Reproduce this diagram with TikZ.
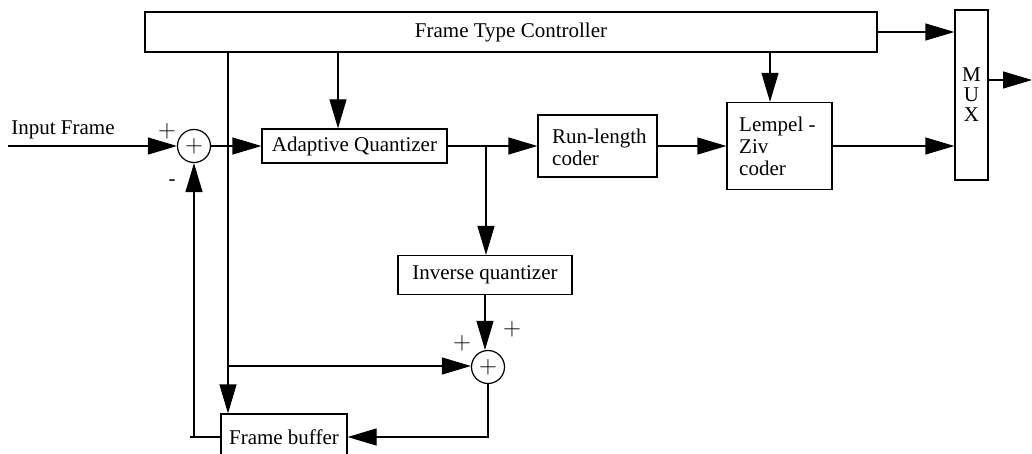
\documentclass[tikz,border=0pt]{standalone}
\usepackage{fontspec}
\setmainfont{Liberation Serif}
\usetikzlibrary{arrows.meta, positioning}

\tikzset{
  block/.style={draw, rectangle, line width=1.2pt, inner sep=0pt},
  sumnode/.style={draw, circle, line width=1.2pt, minimum size=33pt, inner sep=0pt, font=\fontsize{25}{25}\selectfont},
  wire/.style={line width=1.2pt},
  sig/.style={line width=1.2pt, -{Triangle[length=29pt, width=17pt]}},
  sign/.style={inner sep=0pt, font=\fontsize{25}{25}\selectfont}
}

\begin{document}
\begin{tikzpicture}[x=1pt, y=-1pt, font=\fontsize{21}{22}\selectfont]
\useasboundingbox (0,0) rectangle (1032,454);

% blocks
\node[block, minimum width=732pt, minimum height=40pt] (ctrl) at (511,32) {Frame Type Controller};
\node[block, minimum width=33pt, minimum height=170pt, align=center, font=\fontsize{21}{20}\selectfont] (mux) at (971.5,95) {M\\U\\X};
\node[block, minimum width=105pt, minimum height=87pt] (lz) at (779.5,146) {};
\node[anchor=west, align=left, inner sep=0pt] (lztext) at (739,146) {Lempel -\\Ziv\\coder};
\node[block, minimum width=119pt, minimum height=62pt] (rl) at (597.5,146) {};
\node[anchor=west, align=left, inner sep=0pt] (rltext) at (552,147) {Run-length\\coder};
\node[block, minimum width=185pt, minimum height=34pt] (adq) at (354.5,146) {Adaptive Quantizer};
\node[block, minimum width=174pt, minimum height=39pt] (iq) at (485,275) {Inverse quantizer};
\node[block, minimum width=126pt, minimum height=46pt] (fb) at (284,437) {Frame buffer};

% adders
\node[sumnode] (sum1) at (194,146) {$+$};
\node[sumnode] (sum2) at (488,367) {$+$};

% input
\coordinate (in) at (8,146);
\node (inlabel) at (63,130) {Input Frame};
\draw[sig] (in) -- (sum1.west);
\draw[sig] (sum1.east) -- (adq.west);

% forward path
\draw[sig] (adq.east) -- (adq.east -| rl.west);
\draw[sig] (rl.east) -- (rl.east -| lz.west);
\draw[sig] (lz.east) -- (lz.east -| mux.west);
\draw[sig] (ctrl.east) -- (ctrl.east -| mux.west);
\coordinate (out) at (1032,80);
\draw[sig] (out -| mux.east) -- (out);

% controller taps
\coordinate (qtap) at (338,52);
\draw[sig] (qtap) -- (qtap |- adq.north);
\coordinate (lztap) at (770,52);
\draw[sig] (lztap) -- (lztap |- lz.north);

% inverse quantizer loop
\coordinate (br) at (486,146);
\draw[sig] (br) -- (br |- iq.north);
\draw[sig] (iq.south) -- (iq.south |- sum2.north);
\coordinate (fbtap) at (228,52);
\coordinate (fbj) at (228,366);
\draw[wire] (fbtap) -- (fbj);
\draw[sig] (fbj) -- (fbj -| sum2.west);
\draw[sig] (fbj) -- (fbj |- fb.north);
\draw[sig] (sum2.south) |- (fb.east);
\coordinate (fbl) at (190,437);
\draw[wire] (fb.west) -- (fbl);
\draw[sig] (fbl -| sum1.south) -- (sum1.south);

% signs
\node[sign] (s1p) at (167,131) {$+$};
\node[sign, font=\fontsize{21}{21}\selectfont] (s1m) at (172,183) {-};
\node[sign] (s2a) at (462,343) {$+$};
\node[sign] (s2b) at (512,329) {$+$};
\end{tikzpicture}
\end{document}
